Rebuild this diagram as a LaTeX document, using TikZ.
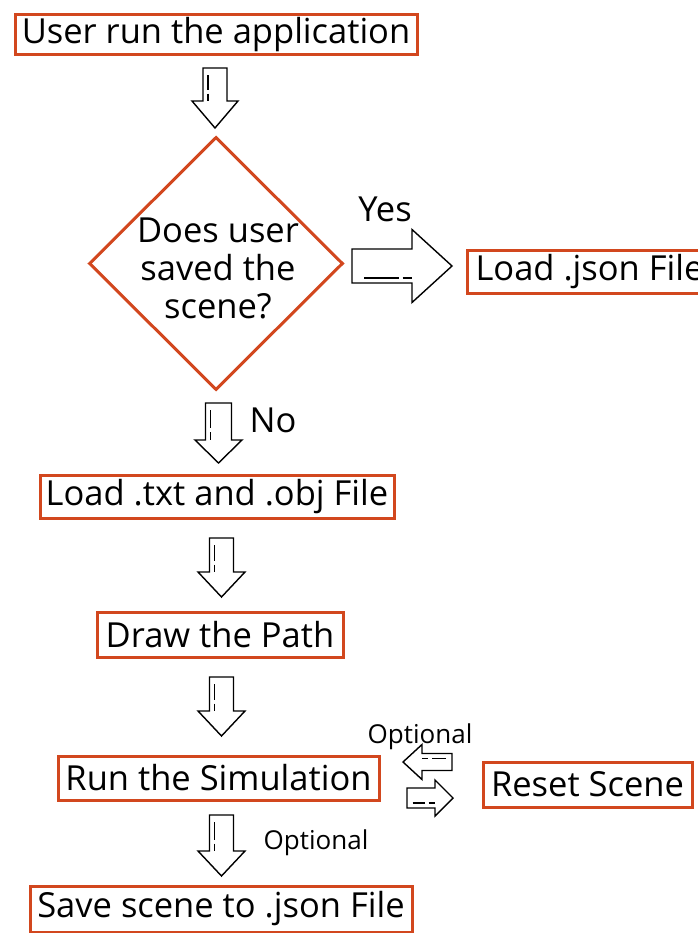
\documentclass[tikz,border=0pt]{standalone}
\usepackage{fontspec}
\setmainfont{Open Sans}
\usetikzlibrary{shapes.geometric}
\definecolor{boxred}{RGB}{210,71,30}
\tikzset{
  x=1pt, y=1pt,
  box/.style={draw=boxred, line width=3pt, inner sep=0pt, align=center,
    font=\fontsize{34.5}{38}\selectfont},
  lbl/.style={inner sep=0pt, font=\fontsize{34.5}{38}\selectfont},
  small/.style={inner sep=0pt, font=\fontsize{26}{30}\selectfont},
  outline/.style={draw=black, line width=1.4pt, line join=miter, fill=white},
  % block arrow pointing along local +x, origin at the tail centre
  % args: length / shaft width / head width / head length
  pics/blk/.style args={#1/#2/#3/#4}{code={
    \draw[outline] (0,#2/2) -- (#1-#4,#2/2) -- (#1-#4,#3/2) -- (#1,0)
      -- (#1-#4,-#3/2) -- (#1-#4,-#2/2) -- (0,-#2/2) -- cycle;
    \draw[line width=1.2pt] (0.12*#1,-#2/2+5) -- (#1-#4-0.22*#2-6,-#2/2+5);
    \draw[line width=1.2pt] (#1-#4-0.22*#2-2,-#2/2+5) -- (#1-#4,-#2/2+5);
  }}
}
\begin{document}
\begin{tikzpicture}
\useasboundingbox (0,0) rectangle (697,-933);

% process boxes
\node[box, minimum width=402pt, minimum height=40pt] (run) at (216,-35) {User run the application};
\node[box, minimum width=354pt, minimum height=43pt] (txt) at (217,-496.5) {Load .txt and .obj File};
\node[box, minimum width=246pt, minimum height=45pt] (path) at (220,-634.5) {Draw the Path};
\node[box, minimum width=321pt, minimum height=44pt] (sim) at (218.5,-778) {Run the Simulation};
\node[box, minimum width=209pt, minimum height=45pt] (reset) at (587.5,-784.5) {Reset Scene};
\node[box, minimum width=382pt, minimum height=46pt] (save) at (221,-909) {Save scene to .json File};
\node[box, minimum height=43pt, anchor=west] (json) at (466,-271.5) {\makebox[242pt][l]{\hspace*{8pt}Load .json File}};

% decision
\node[diamond, draw=boxred, line width=3pt, inner sep=0pt, aspect=1,
  minimum width=254pt, minimum height=253pt] (ask) at (216,-263.5) {};
\node[lbl, align=center] (asktext) at (218,-268) {Does user\\saved the\\scene?};

% block arrows between the steps
\pic[rotate=-90] at (215,-68) {blk=60/24/46/27};
\pic[rotate=-90] at (218.5,-403) {blk=60/26/47/23};
\pic[rotate=-90] at (221.5,-538) {blk=59/24/47/25};
\pic[rotate=-90] at (221.5,-677) {blk=59/24/47/25};
\pic[rotate=-90] at (221.5,-815) {blk=61/24/47/25};
\pic at (352,-266) {blk=100/34/73/40};
\pic[rotate=180] at (452,-762) {blk=49/17/35/19};
\pic at (407,-798) {blk=46/20/36/18};

% labels
\node[lbl] (yes) at (385,-209) {Yes};
\node[lbl] (no) at (273,-420) {No};
\node[small] (opt1) at (420,-737) {Optional};
\node[small] (opt2) at (316,-843) {Optional};
\end{tikzpicture}
\end{document}
